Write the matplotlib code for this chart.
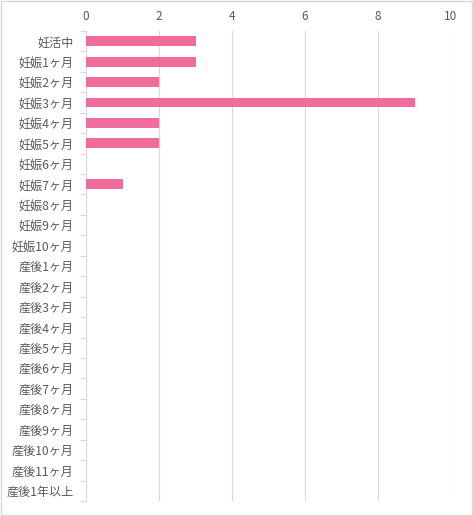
import numpy as np
import matplotlib.pyplot as plt
from matplotlib.patches import Rectangle

plt.rcParams['font.family'] = ['Noto Sans CJK JP', 'DejaVu Sans']

# ----------------------------
# Data
# ----------------------------
categories = [
    "妊活中", "妊娠1ヶ月", "妊娠2ヶ月", "妊娠3ヶ月", "妊娠4ヶ月", "妊娠5ヶ月",
    "妊娠6ヶ月", "妊娠7ヶ月", "妊娠8ヶ月", "妊娠9ヶ月", "妊娠10ヶ月",
    "産後1ヶ月", "産後2ヶ月", "産後3ヶ月", "産後4ヶ月", "産後5ヶ月",
    "産後6ヶ月", "産後7ヶ月", "産後8ヶ月", "産後9ヶ月", "産後10ヶ月",
    "産後11ヶ月", "産後1年以上",
]
counts = [3, 3, 2, 9, 2, 2, 0, 1, 0, 0, 0,
          0, 0, 0, 0, 0, 0, 0, 0, 0, 0, 0, 0]
x_ticks = [0, 2, 4, 6, 8, 10]

grid_col = "#D9D9D9"
text_col = "#595959"

fig = plt.figure(figsize=(4.73, 5.16), dpi=100)
ax = fig.add_axes([86 / 473, 1 - 501 / 516, (451 - 86) / 473, (501 - 31) / 516])

y = np.arange(len(categories))
ax.barh(y, counts, height=0.48, color="#F06C9C", zorder=3)

ax.set_xlim(0, 10)
ax.set_ylim(len(categories) - 0.5, -0.5)
ax.set_xticks(x_ticks)
ax.xaxis.tick_top()
ax.tick_params(axis="x", length=0, labelsize=8.5, labelcolor=text_col, pad=6)
ax.grid(axis="x", color=grid_col, linewidth=0.8, zorder=0)

ax.set_yticks(y)
ax.set_yticklabels(categories)
ax.tick_params(axis="y", which="major", length=0, labelsize=8.7, labelcolor=text_col, pad=9)
ax.set_yticks(np.arange(-0.5, len(categories), 1.0), minor=True)
ax.tick_params(axis="y", which="minor", length=4, color=grid_col, width=0.8)

for s in ["top", "right", "bottom"]:
    ax.spines[s].set_visible(False)
ax.spines["left"].set_color(grid_col)
ax.spines["left"].set_linewidth(0.8)

# outer chart border
fig.patches.append(Rectangle((0.002, 0.002), 0.996, 0.996, transform=fig.transFigure,
                             fill=False, edgecolor=grid_col, linewidth=1.0))

fig.savefig("out.png", dpi=100)
